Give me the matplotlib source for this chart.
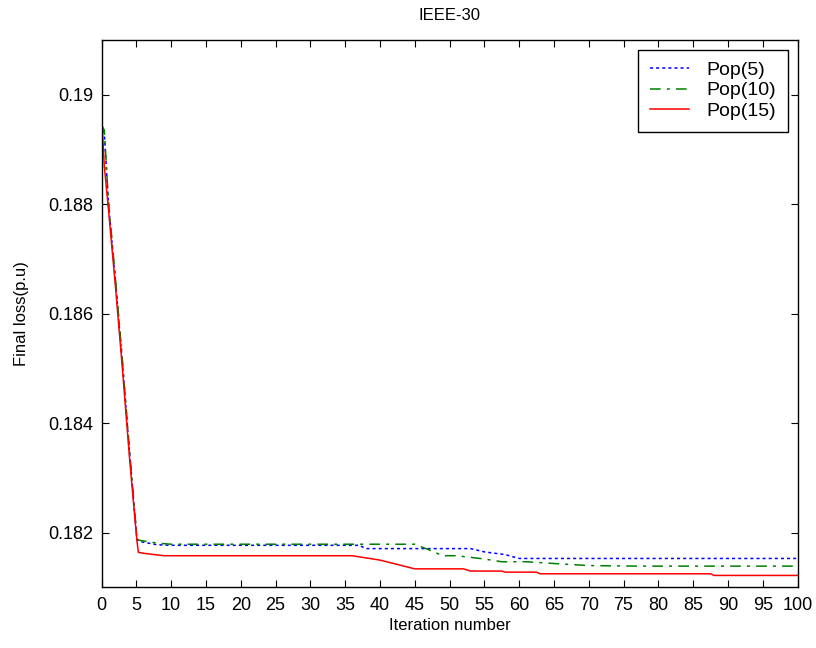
import matplotlib
matplotlib.use("Agg")
import matplotlib.pyplot as plt
from matplotlib.ticker import FuncFormatter

plt.rcParams['font.family'] = ['Liberation Sans', 'DejaVu Sans']

# Pop(5) - breakpoints (iteration, loss)
it_5 = [0, 0.4, 1, 2, 3, 4, 4.8, 5.1, 5.5, 8, 10, 37, 38, 53, 55, 58, 60, 100]
loss_5 = [0.18945, 0.18930, 0.18800, 0.18660, 0.18510, 0.18350, 0.18230, 0.18187, 0.18184,
          0.18178, 0.18177, 0.18177, 0.18171, 0.18171, 0.18165, 0.18160, 0.18153, 0.18153]

# Pop(10)
it_10 = [0, 0.4, 1, 2, 3, 4, 4.8, 5.1, 5.5, 8, 10, 45, 47, 49, 51, 55, 57.5, 61, 66, 70, 77, 100]
loss_10 = [0.18945, 0.18935, 0.18805, 0.18665, 0.18515, 0.18355, 0.18235, 0.18188, 0.18186,
           0.18181, 0.18179, 0.18179, 0.18169, 0.18158, 0.18158, 0.18152, 0.18147, 0.18147,
           0.18143, 0.18140, 0.18139, 0.18139]

# Pop(15)
it_15 = [0, 0.4, 1, 2, 3, 4, 4.8, 5.1, 5.3, 6.3, 9, 36, 40, 45, 52, 53, 57.5, 58, 62.5, 63,
         87.5, 88, 100]
loss_15 = [0.18965, 0.18870, 0.18790, 0.18650, 0.18500, 0.18340, 0.18225, 0.18184, 0.18164,
           0.18162, 0.18158, 0.18158, 0.18150, 0.18134, 0.18134, 0.18130, 0.18130, 0.18128,
           0.18128, 0.18125, 0.18125, 0.18122, 0.18122]

fig = plt.figure(figsize=(8.16, 6.48), dpi=100)
ax = fig.add_axes([0.1244, 0.0934, 0.853, 0.845])

ax.plot(it_5, loss_5, color='blue', linestyle=(0, (2, 2)), linewidth=1.1, label='Pop(5)')
ax.plot(it_10, loss_10, color='green', linestyle=(0, (7, 4, 2, 4)), linewidth=1.1, label='Pop(10)')
ax.plot(it_15, loss_15, color='red', linestyle='-', linewidth=1.1, label='Pop(15)')

ax.set_xlim(0, 100)
ax.set_ylim(0.181, 0.191)
ax.set_xticks(range(0, 101, 5))
ax.set_yticks([0.182, 0.184, 0.186, 0.188, 0.19])
ax.yaxis.set_major_formatter(FuncFormatter(lambda v, p: '%g' % round(v, 4)))
ax.tick_params(direction='in', top=True, right=True, labelsize=13, length=5)
ax.tick_params(axis='x', pad=7)
ax.tick_params(axis='y', pad=6)
for s in ax.spines.values():
    s.set_linewidth(1)

ax.set_title('IEEE-30', fontsize=12, pad=14)
ax.set_xlabel('Iteration number', fontsize=12, labelpad=3)
ax.set_ylabel('Final loss(p.u)', fontsize=12, labelpad=14)

leg = ax.legend(loc='upper right', fontsize=14, fancybox=False, framealpha=1,
                edgecolor='black', handlelength=2.0, labelspacing=0.15,
                borderpad=0.6, borderaxespad=0.5, handletextpad=0.9)
leg.get_frame().set_linewidth(1)

fig.savefig('out.png', dpi=100)
